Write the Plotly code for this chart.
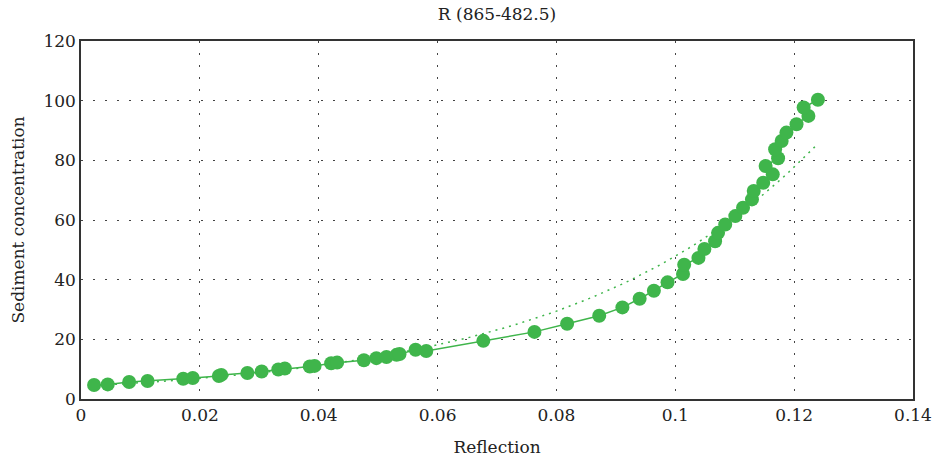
import numpy as np
import plotly.graph_objects as go

# Data (Reflection vs Sediment concentration)
reflection = [
    0.0022, 0.0045, 0.0081, 0.0112, 0.0172, 0.0188, 0.0232, 0.0236, 0.0280, 0.0304,
    0.0332, 0.0343, 0.0385, 0.0393, 0.0421, 0.0431, 0.0476, 0.0497, 0.0514, 0.0531,
    0.0536, 0.0563, 0.0581, 0.0677, 0.0763, 0.0818, 0.0872, 0.0911, 0.0940, 0.0964,
    0.0987, 0.1013, 0.1015, 0.1039, 0.1049, 0.1067, 0.1072, 0.1084, 0.1101, 0.1114,
    0.1129, 0.1132, 0.1148, 0.1164, 0.1152, 0.1173, 0.1168, 0.1179, 0.1187, 0.1204,
    0.1224, 0.1216, 0.1240,
]
sediment = [
    4.7, 4.9, 5.7, 6.05, 6.8, 7.06, 7.7, 8.07, 8.7, 9.2,
    9.9, 10.2, 10.9, 11.1, 12.0, 12.2, 13.0, 13.7, 14.1, 14.8,
    15.1, 16.5, 16.1, 19.5, 22.5, 25.2, 27.9, 30.7, 33.6, 36.3,
    39.1, 41.9, 45.0, 47.3, 50.3, 52.9, 55.7, 58.5, 61.3, 64.1,
    66.9, 69.7, 72.5, 75.3, 78.1, 80.7, 83.7, 86.5, 89.3, 92.1,
    94.9, 97.7, 100.3,
]

title_text = "R (865-482.5)"
x_title = "Reflection"
y_title = "Sediment concentration"
x_ticks = [0, 0.02, 0.04, 0.06, 0.08, 0.1, 0.12, 0.14]
x_ticklabels = ["0", "0.02", "0.04", "0.06", "0.08", "0.1", "0.12", "0.14"]
y_ticks = [0, 20, 40, 60, 80, 100, 120]

GREEN = "#3fb54b"
FONT = "DejaVu Serif"
FS = 17
TXT = "#222222"

# Exponential trendline fitted to the data (log-linear least squares)
xa = np.array(reflection)
ya = np.array(sediment)
b, ln_a = np.polyfit(xa, np.log(ya), 1)
xt = np.linspace(xa.min(), xa.max(), 120)
yt = np.exp(ln_a) * np.exp(b * xt)

fig = go.Figure()
fig.add_trace(go.Scatter(
    x=xt, y=yt, mode="lines",
    line=dict(color=GREEN, width=1.5, dash="2px,5px"),
    hoverinfo="skip", showlegend=False,
))
fig.add_trace(go.Scatter(
    x=reflection, y=sediment, mode="lines+markers",
    line=dict(color=GREEN, width=1.5),
    marker=dict(color=GREEN, size=14),
    showlegend=False,
))

axis_common = dict(
    showline=True, mirror=True, linecolor="#333333", linewidth=1.5,
    showgrid=True, gridcolor="#444444", gridwidth=1.2, griddash="1.5px,10.5px",
    zeroline=False, ticks="", automargin=False,
    tickfont=dict(family=FONT, size=FS, color=TXT),
    title_font=dict(family=FONT, size=FS, color=TXT),
)

fig.update_layout(
    width=932, height=460,
    margin=dict(l=81, r=19, t=41, b=61),
    paper_bgcolor="white", plot_bgcolor="white",
    font=dict(family=FONT, color=TXT),
    title=dict(text=title_text, x=0.5333, xanchor="center", y=0.969, yanchor="middle",
               font=dict(family=FONT, size=FS, color=TXT)),
    xaxis=dict(range=[0, 0.14], tickvals=x_ticks, ticktext=x_ticklabels,
               title=dict(text=x_title, standoff=17), **axis_common),
    yaxis=dict(range=[0, 120], tickvals=y_ticks,
               title=dict(text=y_title, standoff=14), **axis_common),
)

fig.write_html("out.html")
